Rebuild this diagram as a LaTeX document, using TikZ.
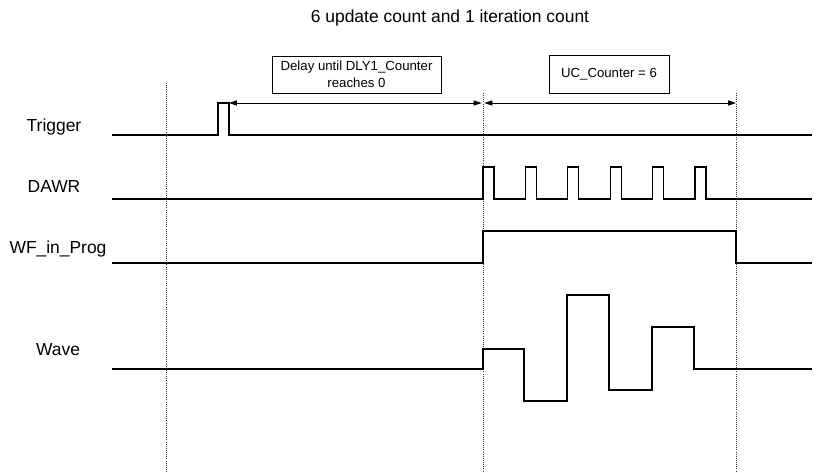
\documentclass[tikz,border=0pt]{standalone}
\usepackage{fontspec}
\setmainfont{Liberation Sans}
\usepackage{tikz}
\usetikzlibrary{arrows.meta,positioning,calc}
\tikzset{
    tdlabel/.style={anchor=base, inner sep=0pt, font=\fontsize{12.4}{15}\selectfont},
    tdbox/.style={draw, line width=0.5pt, align=center, inner sep=1pt, font=\fontsize{9.4}{12}\selectfont},
    tdsignal/.style={line width=0.95pt, line join=miter},
    tdguide/.style={line width=0.45pt, dash pattern=on 0.6pt off 0.9pt, black!80},
    tdarrow/.style={{Triangle[length=5.6pt,width=3.6pt]}-{Triangle[length=5.6pt,width=3.6pt]}, line width=0.55pt}
}
\begin{document}
\begin{tikzpicture}[x=0.025cm, y=-0.025cm]
        \useasboundingbox (0,0) rectangle (816,473);
        \node[tdlabel] (title) at (450,23) {6 update count and 1 iteration count};

        \node[tdlabel] (trigger) at (54,131) {Trigger};
        \node[tdlabel] (dawr) at (54,192) {DAWR};
        \node[tdlabel] (wfprog) at (58,253) {WF\_in\_Prog};
        \node[tdlabel] (wave) at (58,355) {Wave};

        \node[tdbox, minimum width=4.225cm, minimum height=0.925cm] (delaybox) at (356.5,74.5) {Delay until DLY1\_Counter\\reaches 0};
        \node[tdbox, minimum width=3cm, minimum height=0.95cm] (ucbox) at (609,74) {UC\_Counter = 6};

        \coordinate (guideA) at (166,83);
        \coordinate (guideB) at (483,93);
        \coordinate (guideC) at (736,93);
        \coordinate (trigEnd) at (229,103);
        \coordinate (progStart) at (483,103);
        \coordinate (progEnd) at (736,103);

        \draw[tdguide] (guideA) -- (guideA |- 0,473);
        \draw[tdguide] (guideB) -- (guideB |- 0,473);
        \draw[tdguide] (guideC) -- (guideC |- 0,473);

        \draw[tdarrow] (trigEnd) -- ([xshift=-1]progStart);
        \draw[tdarrow] ([xshift=1]progStart) -- (progEnd);

        \draw[tdsignal] (112,135) -- (218,135) -- (218,103) -- (229,103) -- (229,135) -- (812,135);
        \draw[tdsignal] (112,199) foreach \k in {0,...,5} {
            -- ({483+42.4*\k},199) -- ({483+42.4*\k},167) -- ({494+42.4*\k},167) -- ({494+42.4*\k},199)
        } -- (812,199);
        \draw[tdsignal] (112,263) -- (483,263) -- (483,231) -- (736,231) -- (736,263) -- (812,263);
        \draw[tdsignal] (112,369) -- (483,369) -- (483,349) -- (524,349) -- (524,401) -- (567,401)
            -- (567,295) -- (609,295) -- (609,390) -- (652,390) -- (652,327) -- (694,327) -- (694,369) -- (812,369);
    \end{tikzpicture}
\end{document}
